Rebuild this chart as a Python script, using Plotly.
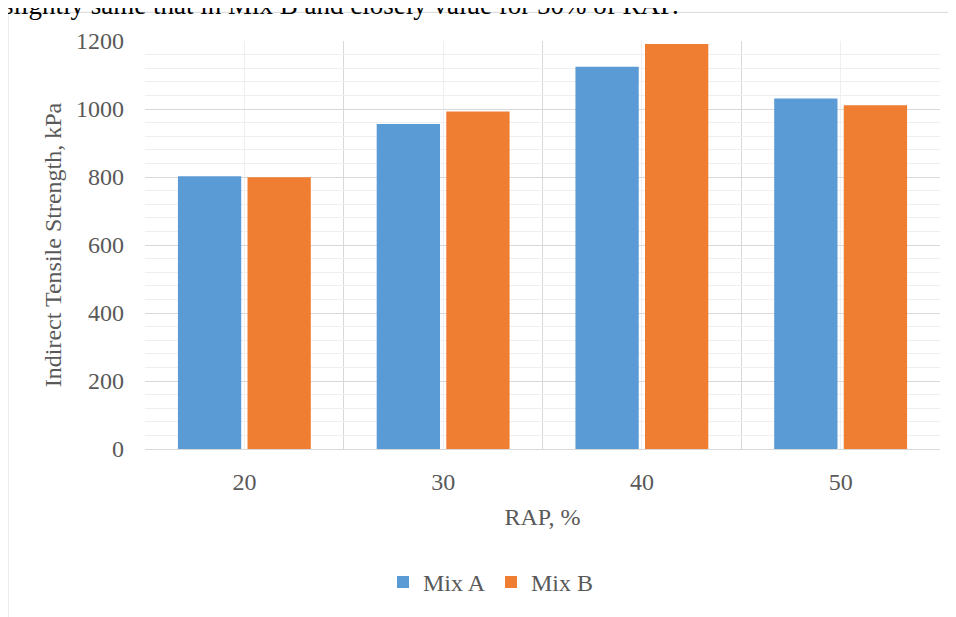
import plotly.graph_objects as go

categories = ["20", "30", "40", "50"]
mix_a = [802, 956, 1124, 1031]
mix_b = [799, 993, 1191, 1011]
y_ticks = [0, 200, 400, 600, 800, 1000, 1200]

xpos = list(range(len(categories)))
FONT = "Liberation Serif, Times New Roman, serif"
W, H = 948, 609
L, R, T, B = 137, 16, 33, 163
PW, PH = W - L - R, H - T - B


def px_x(x):
    return (x - L) / PW


def px_y(y):
    return (H - B - y) / PH


fig = go.Figure()
fig.add_trace(go.Bar(name="Mix A", x=xpos, y=mix_a, marker=dict(color="#5B9BD5", line=dict(width=0))))
fig.add_trace(go.Bar(name="Mix B", x=xpos, y=mix_b, marker=dict(color="#EF7D32", line=dict(width=0))))

fig.update_layout(
    width=W, height=H,
    margin=dict(l=L, r=R, t=T, b=B),
    paper_bgcolor="white", plot_bgcolor="white",
    barmode="group", bargap=0.30, bargroupgap=0.09,
    font=dict(family=FONT, size=24, color="#595959"),
    showlegend=True,
    legend=dict(orientation="h", x=px_x(483), xanchor="center", y=px_y(581), yanchor="middle",
                font=dict(family=FONT, size=24, color="#595959"), itemwidth=30,
                entrywidth=63, entrywidthmode="pixels",
                traceorder="normal"),
)

fig.update_xaxes(
    range=[-0.5, len(categories) - 0.5],
    tickmode="array", tickvals=xpos, ticktext=categories,
    showgrid=True, gridcolor="#efefef", gridwidth=1,
    minor=dict(tickmode="array", tickvals=[i - 0.5 for i in range(len(categories) + 1)],
               showgrid=True, gridcolor="#d9d9d9", gridwidth=1),
    showline=True, linecolor="#d9d9d9", linewidth=1,
    ticks="", ticklabelstandoff=11,
    tickfont=dict(family=FONT, size=24, color="#595959"),
    title=dict(text="RAP, %", standoff=14, font=dict(family=FONT, size=24, color="#595959")),
    zeroline=False,
)
fig.update_yaxes(
    range=[0, 1200],
    tickmode="array", tickvals=y_ticks,
    showgrid=True, gridcolor="#d9d9d9", gridwidth=1,
    minor=dict(dtick=40, showgrid=True, gridcolor="#efefef", gridwidth=1),
    ticks="", ticklabelstandoff=20,
    tickfont=dict(family=FONT, size=24, color="#595959"),
    title=dict(text="Indirect Tensile Strength, kPa", standoff=7,
               font=dict(family=FONT, size=24, color="#595959")),
    zeroline=False, showline=False,
)

# outer frame of the embedded chart
fig.add_shape(type="rect", xref="paper", yref="paper",
              x0=px_x(0), x1=px_x(946),
              y0=px_y(700), y1=px_y(4),
              line=dict(color="#d9d9d9", width=1), fillcolor="rgba(0,0,0,0)", layer="below")

# partially cut caption text above
fig.add_annotation(text="slightly same that in Mix B and closely value for 50% of RAP.",
                   xref="paper", yref="paper", x=px_x(-7), xanchor="left",
                   y=px_y(14), yanchor="bottom", showarrow=False,
                   font=dict(family=FONT, size=27, color="black"))

fig.write_html("out.html")
